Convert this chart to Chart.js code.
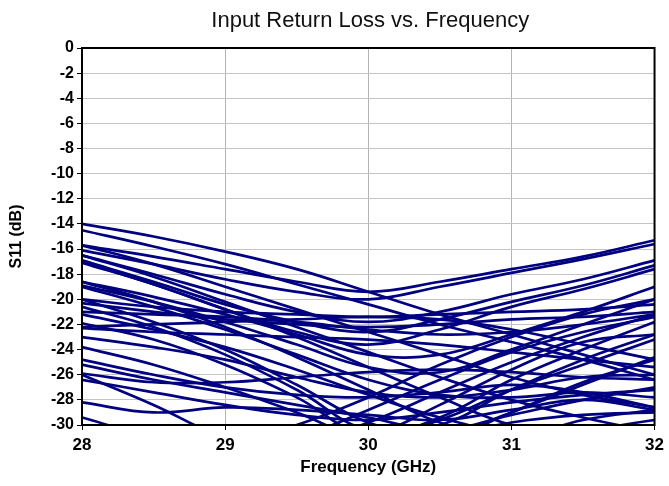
<!DOCTYPE html>
<html>
<head>
<meta charset="utf-8">
<script src="https://cdn.jsdelivr.net/npm/chart.js@4/dist/chart.umd.min.js"></script>
<style>
  html, body { margin: 0; padding: 0; background: #fff; }
  #wrap { width: 669px; height: 486px; }
</style>
</head>
<body>
<div id="wrap"><canvas id="grafica" width="669" height="486"></canvas></div>
<script>
// frecuencias (GHz) y curvas S11 (dB)
const freqs = [28, 28.5, 29, 29.5, 30, 30.5, 31, 31.5, 32];

const s01 = [-14.0, -15.0, -16.2, -17.6, -19.4, -21.2, -22.8, -24.4, -26.0];
const s02 = [-14.5, -15.8, -17.2, -18.8, -20.4, -22.0, -23.4, -24.8, -26.4];
const s03 = [-15.7, -16.6, -17.6, -18.6, -19.4, -18.6, -17.6, -16.6, -15.3];
const s04 = [-16.1, -17.2, -18.4, -19.4, -20.0, -19.0, -17.9, -16.8, -15.6];
const s05 = [-16.5, -18.0, -19.6, -21.0, -21.8, -21.0, -19.6, -18.4, -16.9];
const s06 = [-16.9, -18.6, -20.4, -21.8, -22.6, -21.6, -20.2, -18.9, -17.3];
const s07 = [-17.1, -18.8, -20.8, -22.6, -23.6, -22.4, -20.6, -19.2, -17.6];
const s08 = [-18.6, -19.8, -21.2, -22.8, -24.4, -24.4, -22.8, -21.0, -19.0];
const s09 = [-18.9, -20.2, -21.8, -23.6, -25.4, -25.8, -24.0, -22.0, -20.0];
const s10 = [-20.0, -20.6, -21.0, -21.2, -21.4, -21.2, -21.0, -20.8, -20.4];
const s11 = [-20.3, -21.0, -21.6, -22.0, -22.2, -22.0, -21.6, -21.4, -21.0];
const s12 = [-21.0, -21.2, -21.4, -21.8, -22.4, -22.8, -22.6, -22.0, -21.2];
const s13 = [-21.2, -22.4, -23.8, -25.6, -27.6, -29.4, -30.6, -30.4, -29.6];
const s14 = [-15.7, -17.2, -19.0, -20.8, -22.6, -24.4, -26.2, -27.6, -28.6];
const s15 = [-16.5, -18.2, -20.2, -22.2, -24.2, -26.2, -28.0, -29.4, -30.6];
const s16 = [-18.6, -20.2, -22.2, -24.6, -27.2, -29.8, -31.0, -29.6, -28.8];
const s17 = [-20.0, -21.8, -24.0, -26.8, -29.8, -31.0, -29.0, -26.6, -24.8];
const s18 = [-20.6, -22.2, -24.4, -27.2, -30.4, -30.0, -27.2, -24.8, -22.8];
const s19 = [-21.9, -23.2, -25.2, -27.8, -30.8, -29.4, -26.4, -24.0, -21.8];
const s20 = [-22.3, -22.6, -22.8, -23.0, -23.2, -23.6, -24.2, -24.8, -25.4];
const s21 = [-23.0, -23.8, -24.8, -26.2, -27.4, -27.8, -27.2, -26.2, -26.0];
const s22 = [-23.8, -25.2, -27.0, -29.0, -31.0, -29.6, -27.2, -25.2, -23.2];
const s23 = [-24.8, -26.0, -27.0, -27.6, -27.8, -27.4, -26.8, -27.4, -28.6];
const s24 = [-25.2, -26.4, -27.4, -28.4, -29.4, -30.4, -29.2, -28.0, -27.0];
const s25 = [-25.9, -26.6, -26.6, -26.2, -25.8, -25.6, -25.8, -26.2, -26.4];
const s26 = [-26.4, -27.4, -28.4, -29.2, -29.6, -29.0, -28.2, -27.6, -27.2];
const s27 = [-28.2, -29.0, -28.6, -28.8, -29.2, -29.6, -28.8, -28.0, -28.8];
const s28 = [-26.0, -28.4, -31.0, -32.0, -32.0, -31.0, -29.0, -26.8, -24.6];
const s29 = [-29.4, -31.0, -32.0, -31.0, -28.8, -26.4, -24.2, -22.6, -21.4];
const s30 = [-32.0, -32.0, -31.6, -30.0, -27.8, -25.2, -23.0, -21.2, -20.0];
const s31 = [-32.0, -32.0, -32.0, -31.6, -29.8, -27.4, -25.0, -23.0, -21.2];
const s32 = [-32.0, -32.0, -32.0, -32.0, -31.0, -28.4, -25.6, -23.4, -22.8];
const s33 = [-22.2, -22.0, -21.8, -21.6, -21.4, -21.6, -22.4, -23.6, -24.8];
const s34 = [-17.0, -18.8, -20.8, -23.0, -25.4, -27.8, -30.0, -31.0, -31.0];
const s35 = [-19.0, -20.6, -22.4, -24.4, -26.4, -27.6, -27.8, -27.4, -27.8];
const s36 = [-32.0, -32.0, -32.0, -32.0, -32.0, -31.0, -29.8, -29.2, -29.0];

const curvas = [s01, s02, s03, s04, s05, s06, s07, s08, s09, s10, s11, s12,
  s13, s14, s15, s16, s17, s18, s19, s20, s21, s22, s23, s24,
  s25, s26, s27, s28, s29, s30, s31, s32, s33, s34, s35, s36];

const yTicks = [0, -2, -4, -6, -8, -10, -12, -14, -16, -18, -20, -22, -24, -26, -28, -30];
const xTicks = [28, 29, 30, 31, 32];
const titulo = 'Input Return Loss vs. Frequency';
const fuente = 'Liberation Sans, Arial, sans-serif';

// titulo centrado sobre el area de trazado y marco negro alrededor
const marco = {
  id: 'marco',
  afterDatasetsDraw(chart) {
    const a = chart.chartArea;
    const ctx = chart.ctx;
    ctx.save();
    ctx.strokeStyle = '#000';
    ctx.lineWidth = 2;
    ctx.strokeRect(a.left, a.top, a.right - a.left, a.bottom - a.top);
    ctx.fillStyle = '#111';
    ctx.font = '22px ' + fuente;
    ctx.textAlign = 'center';
    ctx.textBaseline = 'middle';
    ctx.fillText(titulo, (a.left + a.right) / 2 + 2, 21);
    ctx.restore();
  }
};

const datasets = curvas.map(c => ({
  data: c.map((v, i) => ({ x: freqs[i], y: v })),
  borderColor: '#000080',
  borderWidth: 2.7,
  pointRadius: 0,
  tension: 0.4,
  fill: false
}));

new Chart(document.getElementById('grafica').getContext('2d'), {
  type: 'line',
  data: { datasets },
  options: {
    responsive: false,
    animation: false,
    layout: { padding: { left: 0, right: 12, top: 48, bottom: 0 } },
    plugins: {
      legend: { display: false },
      tooltip: { enabled: false },
      title: { display: false }
    },
    scales: {
      x: {
        type: 'linear',
        min: 28, max: 32,
        afterBuildTicks: s => { s.ticks = xTicks.map(v => ({ value: v })); },
        afterFit: s => { s.height = 61; },
        grid: { color: '#b4b4b4', lineWidth: 1, tickLength: 5, tickColor: '#000' },
        border: { color: '#000', width: 2 },
        ticks: {
          color: '#000', padding: 5,
          font: { family: fuente, size: 17, weight: 'bold' }
        },
        title: {
          display: true, text: 'Frequency (GHz)', color: '#000',
          padding: { top: 0, bottom: 8 },
          font: { family: fuente, size: 17, weight: 'bold' }
        }
      },
      y: {
        min: -30, max: 0,
        afterBuildTicks: s => { s.ticks = yTicks.map(v => ({ value: v })); },
        afterFit: s => { s.width = 82; },
        grid: { color: '#c4c4c4', lineWidth: 1, tickLength: 5, tickColor: '#000' },
        border: { color: '#000', width: 2 },
        ticks: {
          color: '#000', padding: 3,
          font: { family: fuente, size: 16, weight: 'bold' }
        },
        title: {
          display: true, text: 'S11 (dB)', color: '#000',
          padding: { top: 7, bottom: 0 },
          font: { family: fuente, size: 16, weight: 'bold' }
        }
      }
    }
  },
  plugins: [marco]
});
</script>
</body>
</html>
